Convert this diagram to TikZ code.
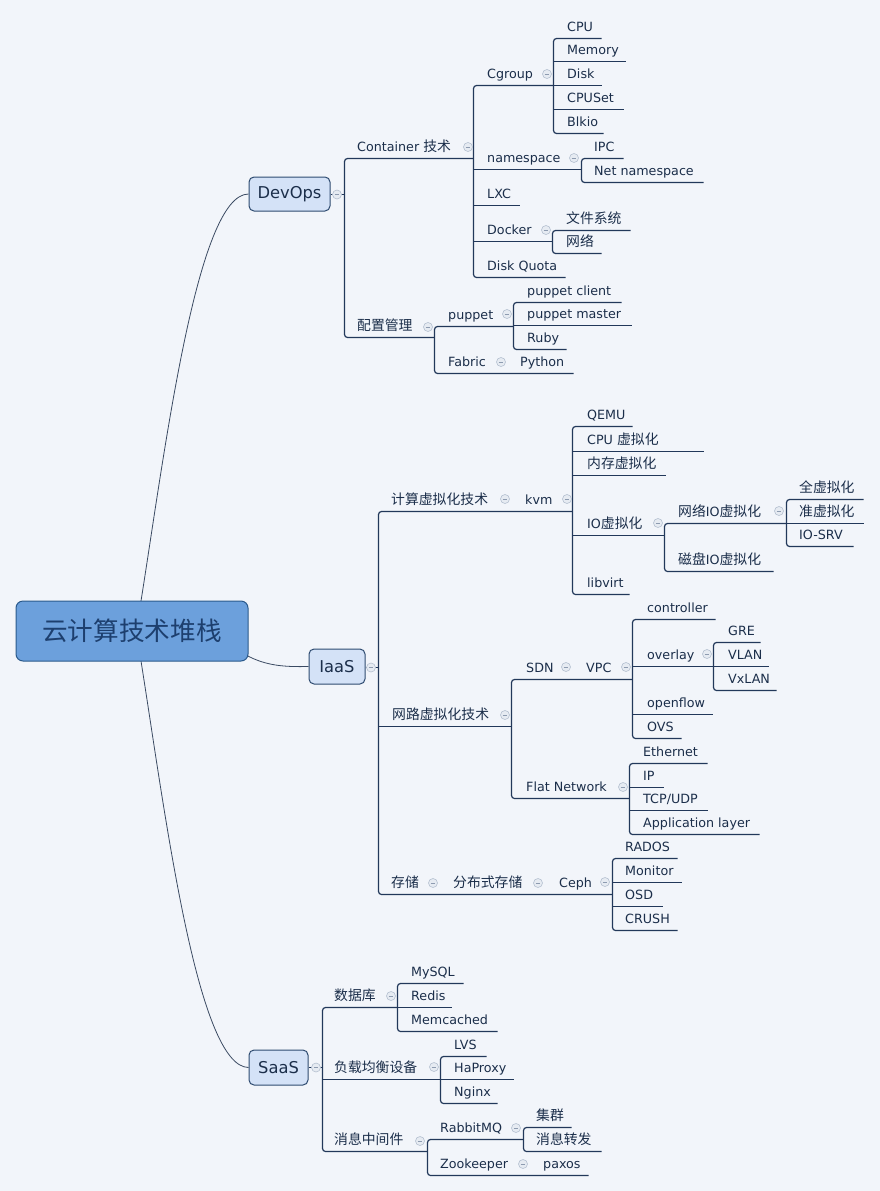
\documentclass[tikz,border=0pt]{standalone}
\usepackage{fontspec}
\setmainfont{DejaVu Sans}
\newfontfamily\cjk[Scale=1.09]{Noto Sans CJK SC}
\newcommand\zh[1]{{\cjk #1}}
\definecolor{bg}{HTML}{F2F5FA}
\definecolor{linec}{HTML}{22385A}
\definecolor{curvec}{HTML}{3A4A62}
\definecolor{txtc}{HTML}{1B2E4A}
\definecolor{rootf}{HTML}{6CA0DC}
\definecolor{rootd}{HTML}{2B5A8C}
\definecolor{roott}{HTML}{1D3F6E}
\definecolor{boxf}{HTML}{D4E2F7}
\definecolor{boxd}{HTML}{2E4B70}
\definecolor{mkf}{HTML}{E6EBF2}
\definecolor{mkd}{HTML}{B4C0D0}
\definecolor{mkm}{HTML}{8D9BB0}
\tikzset{
  ln/.style={draw=linec, line width=1.2pt, shift={(0.5,0.5)}},
  cv/.style={draw=curvec, line width=0.8pt},
  lbl/.style={anchor=base west, inner sep=0pt, text=txtc, font=\fontsize{12.7}{14}\selectfont},
  rootbox/.style={rectangle, rounded corners=7pt, fill=rootf, draw=rootd, line width=1pt,
    minimum width=232pt, minimum height=60pt, inner sep=0pt, text=roott,
    font=\fontsize{23.5}{26}\selectfont},
  mainbox/.style={rectangle, rounded corners=5pt, fill=boxf, draw=boxd, line width=1pt,
    inner sep=0pt, text=txtc, font=\fontsize{16.3}{18}\selectfont},
  colmk/.style={circle, draw=mkd, fill=mkf, line width=0.6pt, minimum size=9pt, inner sep=0pt,
    path picture={\draw[draw=mkm, line width=0.8pt]
      ([xshift=-2.3pt]path picture bounding box.center) -- ([xshift=2.3pt]path picture bounding box.center);}},
}
\newcommand\Brk[5]{\draw[ln, rounded corners=3pt] (#3,#2) -- (#1,#2) -- (#1,#4) -- (#5,#4);}
\newcommand\Hseg[3]{\draw[ln] (#1,#3) -- (#2,#3);}
\newcommand\Tx[4]{\node[lbl] (#1) at (#2,#3-6.2) {#4};}
\newcommand\Mk[3]{\node[colmk] (#1) at (#2,#3) {};}
\begin{document}
\begin{tikzpicture}[x=1pt,y=-1pt]
\fill[bg] (0,0) rectangle (880,1191);
\useasboundingbox (0,0) rectangle (880,1191);

% main boxes
\node[mainbox, minimum width=81pt, minimum height=34pt] (devops) at (289.5,194) {DevOps};
\node[mainbox, minimum width=56pt, minimum height=35pt] (iaas) at (337,666.5) {IaaS};
\node[mainbox, minimum width=59pt, minimum height=35pt] (saas) at (278.5,1067.5) {SaaS};

% curves from root
\draw[cv] (141,620) -- (141,601) .. controls (165,450) and (197,194) .. (devops.west);
\draw[cv] (141,640) -- (141,661) .. controls (165,812) and (197,1067) .. (saas.west);
\draw[cv] (240,650) -- (246,655) .. controls (266,666) and (285,667) .. (iaas.west);
\node[rootbox] (root) at (132,631) {\zh{云计算技术堆栈}};

% box to bracket
\draw[ln] (330,194) -- (344,194);
\draw[ln] (365,667) -- (378,667);
\draw[ln] (308,1067) -- (322,1067);

% ---------- DevOps ----------
\Brk{344}{158}{473}{337}{434}
\Brk{473}{85}{553}{277}{565}
\Hseg{473}{581}{169} \Hseg{473}{519}{205} \Hseg{473}{552}{241}
\Brk{553}{38}{601}{133}{603}
\Hseg{553}{625}{61} \Hseg{553}{601}{85} \Hseg{553}{623}{109}
\Brk{581}{158}{623}{182}{703}
\Brk{552}{230}{630}{253}{601}
\Brk{434}{326}{513}{373}{573}
\Brk{513}{302}{621}{349}{566}
\Hseg{513}{631}{325}

\Tx{container}{357}{158}{Container \zh{技术}}
\Tx{peizhi}{357}{337}{\zh{配置管理}}
\Tx{cgroup}{487}{85}{Cgroup}
\Tx{namespace}{487}{169}{namespace}
\Tx{lxc}{487}{205}{LXC}
\Tx{docker}{487}{241}{Docker}
\Tx{diskquota}{487}{277}{Disk Quota}
\Tx{cpu}{567}{38}{CPU}
\Tx{memory}{567}{61}{Memory}
\Tx{disk}{567}{85}{Disk}
\Tx{cpuset}{567}{109}{CPUSet}
\Tx{blkio}{567}{133}{Blkio}
\Tx{ipc}{594}{158}{IPC}
\Tx{netns}{594}{182}{Net namespace}
\Tx{fs}{566}{230}{\zh{文件系统}}
\Tx{net}{566}{253}{\zh{网络}}
\Tx{puppet}{448}{326}{puppet}
\Tx{fabric}{448}{373}{Fabric}
\Tx{python}{520}{373}{Python}
\Tx{pc}{527}{302}{puppet client}
\Tx{pm}{527}{325}{puppet master}
\Tx{ruby}{527}{349}{Ruby}

% ---------- IaaS ----------
\Brk{378}{511}{572}{894}{612}
\Hseg{378}{511}{726}
\Brk{572}{426}{632}{594}{629}
\Hseg{572}{703}{451} \Hseg{572}{665}{475} \Hseg{572}{664}{535}
\Brk{664}{523}{786}{571}{773}
\Brk{786}{499}{863}{546}{853}
\Hseg{786}{863}{523}
\Brk{511}{679}{632}{798}{629}
\Brk{632}{619}{715}{738}{681}
\Hseg{632}{713}{666} \Hseg{632}{712}{714}
\Brk{713}{642}{760}{690}{776}
\Hseg{713}{768}{666}
\Brk{629}{763}{707}{834}{759}
\Hseg{629}{663}{787} \Hseg{629}{707}{810}
\Brk{612}{858}{677}{930}{677}
\Hseg{612}{681}{882} \Hseg{612}{662}{906}

\Tx{jisuan}{391}{511}{\zh{计算虚拟化技术}}
\Tx{kvm}{525}{511}{kvm}
\Tx{wanglu}{392}{726}{\zh{网路虚拟化技术}}
\Tx{cunchu}{391}{894}{\zh{存储}}
\Tx{fenbu}{453}{894}{\zh{分布式存储}}
\Tx{ceph}{559}{894}{Ceph}
\Tx{qemu}{587}{426}{QEMU}
\Tx{cpuv}{587}{451}{CPU \zh{虚拟化}}
\Tx{memv}{587}{475}{\zh{内存虚拟化}}
\Tx{iov}{587}{535}{IO\zh{虚拟化}}
\Tx{libvirt}{587}{594}{libvirt}
\Tx{netio}{678}{523}{\zh{网络}IO\zh{虚拟化}}
\Tx{diskio}{678}{571}{\zh{磁盘}IO\zh{虚拟化}}
\Tx{full}{799}{499}{\zh{全虚拟化}}
\Tx{para}{799}{523}{\zh{准虚拟化}}
\Tx{iosrv}{799}{546}{IO-SRV}
\Tx{sdn}{526}{679}{SDN}
\Tx{vpc}{586}{679}{VPC}
\Tx{flat}{526}{798}{Flat Network}
\Tx{controller}{647}{619}{controller}
\Tx{overlay}{647}{666}{overlay}
\Tx{openflow}{647}{714}{openflow}
\Tx{ovs}{647}{738}{OVS}
\Tx{gre}{728}{642}{GRE}
\Tx{vlan}{728}{666}{VLAN}
\Tx{vxlan}{728}{690}{VxLAN}
\Tx{eth}{643}{763}{Ethernet}
\Tx{ip}{643}{787}{IP}
\Tx{tcp}{643}{810}{TCP/UDP}
\Tx{app}{643}{834}{Application layer}
\Tx{rados}{625}{858}{RADOS}
\Tx{monitor}{625}{882}{Monitor}
\Tx{osd}{625}{906}{OSD}
\Tx{crush}{625}{930}{CRUSH}

% ---------- SaaS ----------
\Brk{322}{1007}{397}{1151}{427}
\Hseg{322}{440}{1079}
\Brk{397}{983}{463}{1031}{497}
\Hseg{397}{451}{1007}
\Brk{440}{1056}{486}{1103}{497}
\Hseg{440}{513}{1079}
\Brk{427}{1139}{523}{1175}{588}
\Brk{523}{1127}{571}{1151}{601}

\Tx{db}{334}{1007}{\zh{数据库}}
\Tx{lb}{334}{1079}{\zh{负载均衡设备}}
\Tx{mq}{334}{1151}{\zh{消息中间件}}
\Tx{mysql}{411}{983}{MySQL}
\Tx{redis}{411}{1007}{Redis}
\Tx{memc}{411}{1031}{Memcached}
\Tx{lvs}{454}{1056}{LVS}
\Tx{haproxy}{454}{1079}{HaProxy}
\Tx{nginx}{454}{1103}{Nginx}
\Tx{rabbit}{440}{1139}{RabbitMQ}
\Tx{zk}{440}{1175}{Zookeeper}
\Tx{paxos}{543}{1175}{paxos}
\Tx{jiqun}{536}{1127}{\zh{集群}}
\Tx{zhuanfa}{536}{1151}{\zh{消息转发}}

% ---------- collapse markers ----------
\Mk{m1}{337}{194.5} \Mk{m2}{468}{147} \Mk{m3}{547}{74} \Mk{m4}{574}{158}
\Mk{m5}{546}{230} \Mk{m6}{428}{327} \Mk{m7}{507}{314} \Mk{m8}{501}{362}
\Mk{m9}{371}{667.5} \Mk{m10}{505}{499} \Mk{m11}{567}{499} \Mk{m12}{658}{523}
\Mk{m13}{779}{511} \Mk{m14}{505}{715} \Mk{m15}{566}{667} \Mk{m16}{626}{667}
\Mk{m17}{707}{654} \Mk{m18}{623}{787} \Mk{m19}{433}{883} \Mk{m20}{538}{883}
\Mk{m21}{605}{882}
\Mk{m22}{316}{1067.5} \Mk{m23}{391}{996} \Mk{m24}{434}{1067} \Mk{m25}{420}{1141}
\Mk{m26}{516}{1128} \Mk{m27}{523}{1164}
\end{tikzpicture}
\end{document}
